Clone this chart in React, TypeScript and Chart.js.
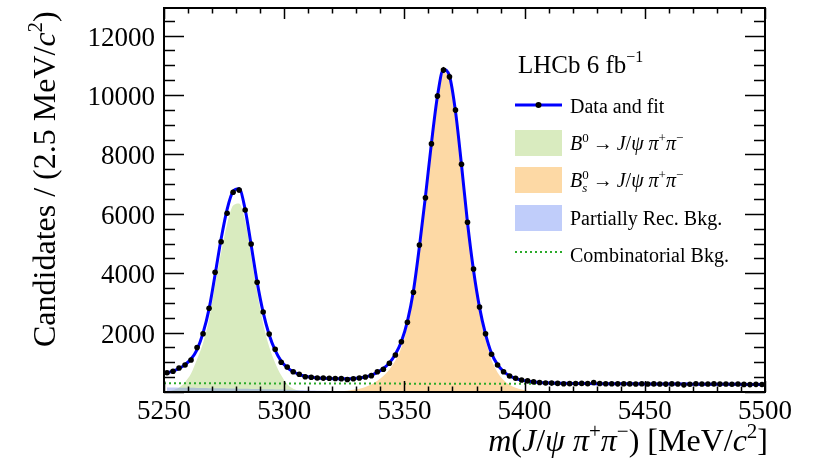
import React, { useEffect, useRef } from "react";
import { Chart, registerables } from "chart.js";

Chart.register(...registerables);

// ---- binning (categories) ----
const BIN_LOW = 5250;
const BIN_WIDTH = 2.5;

// ---- data: candidates per 2.5 MeV bin (100 bins) ----
const dataCounts = [
  650, 697, 808, 909, 1080, 1500, 1963, 2818, 4030, 5061,
  6017, 6724, 6801, 6128, 4983, 3694, 2694, 1953, 1437, 1000,
  842, 684, 596, 515, 495, 471, 468, 462, 455, 450,
  420, 448, 470, 505, 550, 684, 764, 966, 1246, 1694,
  2347, 3357, 4950, 6542, 8360, 9966, 10842, 10616, 9495, 7667,
  5714, 4141, 2862, 1963, 1269, 909, 684, 539, 461, 404,
  375, 340, 318, 305, 300, 290, 276, 282, 285, 290,
  282, 318, 284, 280, 276, 274, 278, 272, 270, 276,
  268, 272, 270, 266, 272, 268, 240, 262, 278, 270,
  268, 272, 266, 270, 262, 268, 256, 250, 258, 252,
];

// ---- total fit at bin centres ----
const fitValues = [
  640, 705, 790, 920, 1110, 1430, 1990, 2800, 3950, 5150,
  6150, 6760, 6840, 6150, 4950, 3700, 2680, 1930, 1400, 1040,
  820, 680, 590, 530, 495, 475, 462, 455, 450, 448,
  450, 458, 475, 505, 565, 660, 790, 980, 1270, 1700,
  2380, 3400, 4900, 6580, 8380, 9960, 10860, 10640, 9450, 7650,
  5700, 4100, 2850, 1950, 1300, 920, 690, 545, 455, 400,
  365, 340, 322, 310, 302, 296, 292, 289, 287, 285,
  283, 281, 280, 279, 278, 277, 276, 275, 274, 273,
  272, 271, 270, 269, 268, 267, 266, 265, 264, 263,
  262, 261, 260, 259, 258, 257, 256, 255, 254, 253,
];

// ---- B0 -> J/psi pi pi component (starting at bin 0) ----
const B0_START = 0;
const b0Values = [
  20, 60, 150, 330, 620, 1100, 1650, 2450, 3600, 4700,
  5650, 6280, 6350, 5760, 4600, 3350, 2300, 1520, 980, 560,
  260, 110, 40, 10, 0,
];

// ---- Bs0 -> J/psi pi pi component (starting at bin 27) ----
const BS_START = 27;
const bsValues = [
  0, 10, 25, 45, 75, 110, 170, 250, 380, 540,
  760, 1060, 1500, 2200, 3250, 4750, 6450, 8250, 9830, 10760,
  10550, 9350, 7550, 5600, 3980, 2700, 1760, 1080, 660, 400,
  240, 140, 80, 40, 15, 0,
];

// ---- partially reconstructed background (starting at bin 0) ----
const PR_START = 0;
const prValues = [
  150, 148, 145, 142, 140, 137, 134, 130, 127, 124,
  120, 116, 112, 108, 104, 100, 96, 91, 86, 81,
  76, 70, 64, 58, 52, 46, 40, 34, 28, 22,
  16, 11, 6, 2, 0,
];

// ---- combinatorial background (straight line) ----
const combMass = [5250, 5500];
const combValues = [295, 262];

// ---- axes ----
const X_MIN = 5250;
const X_MAX = 5500;
const Y_MIN = 0;
const Y_MAX = 12930;
const xTickLabels = [5250, 5300, 5350, 5400, 5450, 5500];
const xMinorStep = 10;
const yTickLabels = [2000, 4000, 6000, 8000, 10000, 12000];
const yMajorStep = 2000;
const yMinorStep = 500;

const FAMILY = "'Liberation Serif', 'Times New Roman', serif";

const binCentre = (i: number) => BIN_LOW + BIN_WIDTH * (i + 0.5);
const toPoints = (vals: number[], start: number) =>
  vals.map((v, k) => ({ x: binCentre(start + k), y: v }));

type Run = { t: string; it?: boolean; size: number; dy?: number; noAdv?: boolean };

function runsWidth(ctx: CanvasRenderingContext2D, runs: Run[]) {
  let w = 0;
  for (const r of runs) {
    ctx.font = `${r.it ? "italic " : ""}${r.size}px ${FAMILY}`;
    if (!r.noAdv) w += ctx.measureText(r.t).width;
  }
  return w;
}

function drawRuns(ctx: CanvasRenderingContext2D, runs: Run[], x: number, y: number) {
  let cx = x;
  for (const r of runs) {
    ctx.font = `${r.it ? "italic " : ""}${r.size}px ${FAMILY}`;
    ctx.fillText(r.t, cx, y + (r.dy || 0));
    if (!r.noAdv) cx += ctx.measureText(r.t).width;
  }
  return cx - x;
}

const decayRuns = (sub: boolean): Run[] => {
  const s = 20;
  const ss = 13;
  const head: Run[] = sub
    ? [
        { t: "B", it: true, size: s },
        { t: "s", it: true, size: ss, dy: 5, noAdv: true },
        { t: "0", size: ss, dy: -8 },
      ]
    : [
        { t: "B", it: true, size: s },
        { t: "0", size: ss, dy: -8 },
      ];
  return [
    ...head,
    { t: "\u2009\u2192\u2009", size: s },
    { t: "J", it: true, size: s },
    { t: "/", size: s },
    { t: "\u03C8", it: true, size: s },
    { t: " \u03C0", it: true, size: s },
    { t: "+", size: ss, dy: -8 },
    { t: "\u03C0", it: true, size: s },
    { t: "\u2212", size: ss, dy: -8 },
  ];
};

const framePlugin = {
  id: "lhcbFrame",
  afterDatasetsDraw(chart: any) {
    const ctx: CanvasRenderingContext2D = chart.ctx;
    const xs = chart.scales.x;
    const ys = chart.scales.y;
    // error bars
    ctx.save();
    ctx.strokeStyle = "#000";
    ctx.lineWidth = 1.5;
    dataCounts.forEach((v, i) => {
      const px = xs.getPixelForValue(binCentre(i));
      const e = Math.sqrt(v);
      ctx.beginPath();
      ctx.moveTo(px, ys.getPixelForValue(v - e));
      ctx.lineTo(px, ys.getPixelForValue(v + e));
      ctx.stroke();
    });
    ctx.restore();
  },
  afterDraw(chart: any) {
    const ctx: CanvasRenderingContext2D = chart.ctx;
    const a = chart.chartArea;
    const xs = chart.scales.x;
    const ys = chart.scales.y;
    ctx.save();
    ctx.strokeStyle = "#000";
    ctx.fillStyle = "#000";
    // ticks
    ctx.lineWidth = 1.5;
    ctx.beginPath();
    for (let v = X_MIN; v <= X_MAX + 1e-6; v += xMinorStep) {
      const px = Math.round(xs.getPixelForValue(v)) + 0.5;
      const major = (v - X_MIN) % 50 === 0;
      const len = major ? 11 : 5.5;
      ctx.moveTo(px, a.bottom);
      ctx.lineTo(px, a.bottom - len);
      ctx.moveTo(px, a.top);
      ctx.lineTo(px, a.top + len);
    }
    for (let v = Y_MIN; v <= Y_MAX; v += yMinorStep) {
      const py = Math.round(ys.getPixelForValue(v)) + 0.5;
      const major = v % yMajorStep === 0;
      const len = major ? 20 : 11;
      ctx.moveTo(a.left, py);
      ctx.lineTo(a.left + len, py);
      ctx.moveTo(a.right, py);
      ctx.lineTo(a.right - len, py);
    }
    ctx.stroke();
    // frame
    ctx.lineWidth = 2;
    ctx.strokeRect(a.left, a.top, a.right - a.left, a.bottom - a.top);

    // tick labels
    ctx.font = `27px ${FAMILY}`;
    ctx.textAlign = "center";
    ctx.textBaseline = "alphabetic";
    xTickLabels.forEach((v) => {
      ctx.fillText(String(v), xs.getPixelForValue(v), 419);
    });
    ctx.textAlign = "right";
    yTickLabels.forEach((v) => {
      ctx.fillText(String(v), 155, ys.getPixelForValue(v) + 10);
    });
    ctx.textAlign = "left";

    // x title
    const xt: Run[] = [
      { t: "m", it: true, size: 32 },
      { t: "(", size: 32 },
      { t: "J", it: true, size: 32 },
      { t: "/", size: 32 },
      { t: "\u03C8", it: true, size: 32 },
      { t: " \u03C0", it: true, size: 32 },
      { t: "+", size: 21, dy: -13 },
      { t: "\u03C0", it: true, size: 32 },
      { t: "\u2212", size: 21, dy: -13 },
      { t: ") [MeV/", size: 32 },
      { t: "c", it: true, size: 32 },
      { t: "2", size: 21, dy: -13 },
      { t: "]", size: 32 },
    ];
    const xw = runsWidth(ctx, xt);
    drawRuns(ctx, xt, 768 - xw, 451);

    // y title (rotated)
    const yt: Run[] = [
      { t: "Candidates / (2.5 MeV/", size: 32 },
      { t: "c", it: true, size: 32 },
      { t: "2", size: 21, dy: -13 },
      { t: ")", size: 32 },
    ];
    ctx.save();
    ctx.translate(55, 347);
    ctx.rotate(-Math.PI / 2);
    drawRuns(ctx, yt, 0, 0);
    ctx.restore();

    // LHCb label
    drawRuns(
      ctx,
      [
        { t: "LHCb 6 fb", size: 25 },
        { t: "\u22121", size: 16, dy: -11 },
      ],
      518,
      73
    );

    // legend
    const lx0 = 515;
    const lx1 = 562;
    const tx = 570;
    ctx.strokeStyle = "#0000ff";
    ctx.lineWidth = 3;
    ctx.beginPath();
    ctx.moveTo(lx0, 105);
    ctx.lineTo(lx1, 105);
    ctx.stroke();
    ctx.fillStyle = "#000";
    ctx.beginPath();
    ctx.arc((lx0 + lx1) / 2, 105, 3, 0, Math.PI * 2);
    ctx.fill();
    drawRuns(ctx, [{ t: "Data and fit", size: 20 }], tx, 113);
    ctx.fillStyle = "rgb(217,235,191)";
    ctx.fillRect(lx0, 130, lx1 - lx0, 26);
    ctx.fillStyle = "rgb(253,217,165)";
    ctx.fillRect(lx0, 167, lx1 - lx0, 26);
    ctx.fillStyle = "rgb(192,205,250)";
    ctx.fillRect(lx0, 205, lx1 - lx0, 26);
    ctx.fillStyle = "#000";
    drawRuns(ctx, decayRuns(false), tx, 150);
    drawRuns(ctx, decayRuns(true), tx, 187);
    drawRuns(ctx, [{ t: "Partially Rec. Bkg.", size: 20 }], tx, 225);
    ctx.strokeStyle = "#2aaa2a";
    ctx.lineWidth = 2;
    ctx.setLineDash([2, 3]);
    ctx.beginPath();
    ctx.moveTo(lx0, 252);
    ctx.lineTo(lx1, 252);
    ctx.stroke();
    ctx.setLineDash([]);
    drawRuns(ctx, [{ t: "Combinatorial Bkg.", size: 20 }], tx, 262);
    ctx.restore();
  },
};

export default function App() {
  const ref = useRef<HTMLCanvasElement>(null);
  useEffect(() => {
    if (!ref.current) return;
    const chart = new Chart(ref.current, {
      type: "line",
      data: {
        datasets: [
          {
            label: "Data",
            data: toPoints(dataCounts, 0),
            showLine: false,
            pointRadius: 2.8,
            pointBackgroundColor: "#000",
            pointBorderWidth: 0,
            borderColor: "#000",
            order: 0,
          },
          {
            label: "Fit",
            data: toPoints(fitValues, 0),
            borderColor: "#0000ff",
            borderWidth: 3,
            pointRadius: 0,
            cubicInterpolationMode: "monotone",
            fill: false,
            order: 1,
          },
          {
            label: "Combinatorial",
            data: combMass.map((m, k) => ({ x: m, y: combValues[k] })),
            borderColor: "#2aaa2a",
            borderWidth: 2,
            borderDash: [2, 3],
            pointRadius: 0,
            fill: false,
            order: 2,
          },
          {
            label: "Partially Rec.",
            data: toPoints(prValues, PR_START),
            borderWidth: 0,
            borderColor: "rgba(0,0,0,0)",
            backgroundColor: "rgba(120,140,230,0.45)",
            pointRadius: 0,
            cubicInterpolationMode: "monotone",
            fill: "origin",
            order: 3,
          },
          {
            label: "B0",
            data: toPoints(b0Values, B0_START),
            borderWidth: 0,
            borderColor: "rgba(0,0,0,0)",
            backgroundColor: "rgb(217,235,191)",
            pointRadius: 0,
            cubicInterpolationMode: "monotone",
            fill: "origin",
            order: 4,
          },
          {
            label: "Bs",
            data: toPoints(bsValues, BS_START),
            borderWidth: 0,
            borderColor: "rgba(0,0,0,0)",
            backgroundColor: "rgb(253,217,165)",
            pointRadius: 0,
            cubicInterpolationMode: "monotone",
            fill: "origin",
            order: 5,
          },
        ],
      },
      options: {
        animation: false,
        responsive: false,
        devicePixelRatio: 1,
        layout: { padding: { top: 8, right: 51, left: 0, bottom: 0 } },
        plugins: {
          legend: { display: false },
          tooltip: { enabled: false },
        },
        scales: {
          x: {
            type: "linear",
            min: X_MIN,
            max: X_MAX,
            grid: { display: false },
            border: { display: false },
            ticks: { display: false },
            afterFit: (s: any) => {
              s.height = 73;
            },
          },
          y: {
            type: "linear",
            min: Y_MIN,
            max: Y_MAX,
            grid: { display: false },
            border: { display: false },
            ticks: { display: false },
            afterFit: (s: any) => {
              s.width = 164;
            },
          },
        },
      },
      plugins: [framePlugin],
    } as any);
    return () => chart.destroy();
  }, []);
  return (
    <div style={{ position: "fixed", left: 0, top: 0, width: 816, height: 465, background: "#fff" }}>
      <canvas ref={ref} width={816} height={465} style={{ display: "block", width: 816, height: 465 }} />
    </div>
  );
}
